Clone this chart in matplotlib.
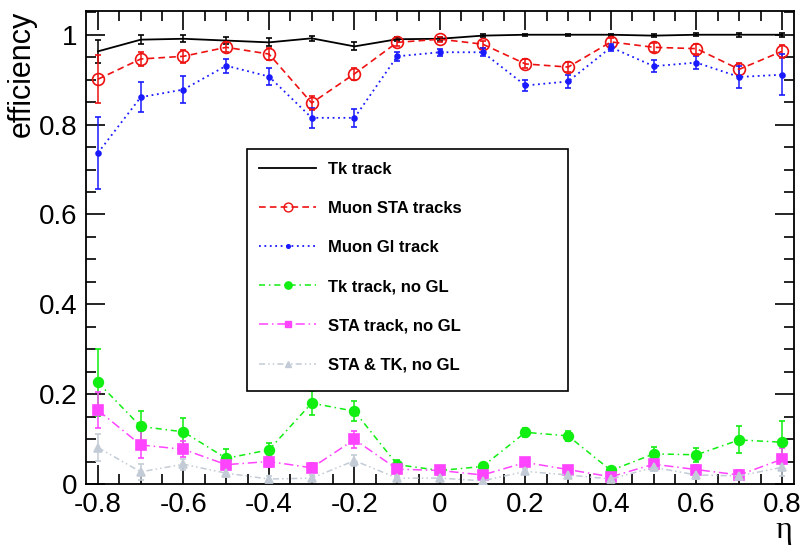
import matplotlib
matplotlib.use("Agg")
import matplotlib.pyplot as plt
from matplotlib.lines import Line2D
from matplotlib.patches import Rectangle
from matplotlib.ticker import MultipleLocator

eta = [-0.8, -0.7, -0.6, -0.5, -0.4, -0.3, -0.2, -0.1, 0.0,
       0.1, 0.2, 0.3, 0.4, 0.5, 0.6, 0.7, 0.8]

tk = [0.963, 0.989, 0.991, 0.987, 0.983, 0.992, 0.974, 0.990, 0.991,
      0.998, 1.0, 1.0, 1.0, 0.998, 1.0, 1.0, 1.0]
tk_err = [0.025, 0.010, 0.008, 0.008, 0.009, 0.006, 0.009, 0.005, 0.005,
          0.003, 0.002, 0.002, 0.002, 0.004, 0.003, 0.004, 0.004]

sta = [0.901, 0.946, 0.952, 0.972, 0.957, 0.848, 0.913, 0.983, 0.990,
       0.979, 0.935, 0.928, 0.984, 0.972, 0.969, 0.923, 0.963]
sta_err = [0.054, 0.016, 0.014, 0.011, 0.013, 0.016, 0.014, 0.007, 0.006,
           0.008, 0.010, 0.012, 0.008, 0.010, 0.011, 0.015, 0.015]

glb = [0.737, 0.861, 0.878, 0.931, 0.907, 0.815, 0.815, 0.952, 0.961,
       0.961, 0.887, 0.896, 0.972, 0.930, 0.938, 0.906, 0.911]
glb_err = [0.080, 0.033, 0.030, 0.016, 0.020, 0.022, 0.020, 0.010, 0.008,
           0.009, 0.012, 0.015, 0.008, 0.013, 0.014, 0.025, 0.045]

tk_nogl = [0.226, 0.128, 0.116, 0.057, 0.076, 0.180, 0.162, 0.043, 0.030,
           0.039, 0.115, 0.107, 0.030, 0.067, 0.065, 0.098, 0.093]
tk_nogl_err = [0.075, 0.035, 0.030, 0.020, 0.015, 0.027, 0.022, 0.010, 0.008,
               0.008, 0.010, 0.012, 0.008, 0.015, 0.016, 0.030, 0.048]

sta_nogl = [0.164, 0.087, 0.077, 0.043, 0.050, 0.036, 0.099, 0.033, 0.030,
            0.020, 0.048, 0.032, 0.016, 0.044, 0.032, 0.020, 0.055]
sta_nogl_err = [0.040, 0.030, 0.018, 0.012, 0.012, 0.010, 0.018, 0.008, 0.007,
                0.006, 0.006, 0.006, 0.005, 0.010, 0.010, 0.010, 0.025]

both_nogl = [0.081, 0.027, 0.044, 0.024, 0.011, 0.013, 0.052, 0.013, 0.013,
             0.007, 0.028, 0.020, 0.011, 0.037, 0.020, 0.018, 0.037]
both_nogl_err = [0.030, 0.018, 0.012, 0.008, 0.006, 0.006, 0.012, 0.005, 0.005,
                 0.004, 0.005, 0.005, 0.004, 0.008, 0.008, 0.010, 0.020]

labels = ["Tk track", "Muon STA tracks", "Muon Gl track",
          "Tk track, no GL", "STA track, no GL", "STA & TK, no GL"]

plt.rcParams['font.family'] = ['Liberation Sans', 'DejaVu Sans']

fig = plt.figure(figsize=(8.06, 5.46), dpi=100)
ax = fig.add_axes([0.1067, 0.1136, 0.8783, 0.8664])

styles = [
    dict(color='black', ls='-', marker='', ms=0, mfc='black', lw=1.3),
    dict(color='#ee1111', ls=(0, (4, 2.5)), marker='o', ms=8.5, mfc='none', lw=1.2),
    dict(color='#1a1aff', ls=(0, (1, 2)), marker='o', ms=3.5, mfc='#1a1aff', lw=1.3),
    dict(color='#11ee11', ls=(0, (4, 2.5, 1, 2.5)), marker='o', ms=7, mfc='#11ee11', lw=1.1),
    dict(color='#ff44ff', ls=(0, (6, 2.5, 1, 2.5)), marker='s', ms=6.5, mfc='#ff44ff', lw=1.1),
    dict(color='#c3ccd6', ls=(0, (4, 2, 1, 2, 1, 2)), marker='^', ms=6, mfc='#c3ccd6', lw=1.1),
]
series = [(tk, tk_err), (sta, sta_err), (glb, glb_err),
          (tk_nogl, tk_nogl_err), (sta_nogl, sta_nogl_err), (both_nogl, both_nogl_err)]

handles = []
for (vals, errs), st, lab in zip(series, styles, labels):
    ax.errorbar(eta, vals, yerr=errs, color=st['color'], ls=st['ls'], lw=st['lw'],
                marker=st['marker'] if st['marker'] else None, ms=st['ms'],
                mfc=st['mfc'], mec=st['color'], mew=1.2,
                elinewidth=1.1, capsize=2.5, capthick=1.1, zorder=3)
    handles.append(Line2D([0], [0], color=st['color'], ls=st['ls'], lw=st['lw'],
                          marker=st['marker'] if st['marker'] else None,
                          ms=st['ms'] * 0.75, mfc=st['mfc'], mec=st['color']))

ax.set_xlim(-0.828, 0.828)
ax.set_ylim(0, 1.053)
ax.xaxis.set_major_locator(MultipleLocator(0.2))
ax.xaxis.set_minor_locator(MultipleLocator(0.05))
ax.yaxis.set_major_locator(MultipleLocator(0.2))
ax.yaxis.set_minor_locator(MultipleLocator(0.05))
ax.tick_params(which='both', direction='in', top=True, right=True, width=1.2)
ax.tick_params(which='major', length=14, labelsize=20, pad=6)
ax.tick_params(which='minor', length=7)
ax.set_xticks([-0.8, -0.6, -0.4, -0.2, 0, 0.2, 0.4, 0.6, 0.8])
ax.set_xticklabels(["-0.8", "-0.6", "-0.4", "-0.2", "0", "0.2", "0.4", "0.6", "0.8"])
ax.set_yticks([0, 0.2, 0.4, 0.6, 0.8, 1.0])
ax.set_yticklabels(["0", "0.2", "0.4", "0.6", "0.8", "1"])
for sp in ax.spines.values():
    sp.set_linewidth(1.3)

ax.set_ylabel("efficiency", fontsize=22, loc='top', labelpad=2)
fig.text(792 / 806, 1 - 538 / 546, "η", fontsize=23, ha='right', va='baseline',
         family=['Liberation Serif', 'DejaVu Serif'])

# legend box
box = Rectangle((0.227, 0.197), 0.681 - 0.227, 0.708 - 0.197, transform=ax.transAxes,
                facecolor='white', edgecolor='black', lw=1.2, zorder=4)
ax.add_patch(box)
leg = ax.legend(handles, labels, loc='upper left', bbox_to_anchor=(0.227, 0.708),
                prop={'weight': 'bold', 'size': 12}, frameon=False,
                handlelength=3.4, labelspacing=1.45,
                borderpad=0.75, handletextpad=0.75, borderaxespad=0)
leg.set_zorder(5)

fig.savefig("out.png", dpi=100)
